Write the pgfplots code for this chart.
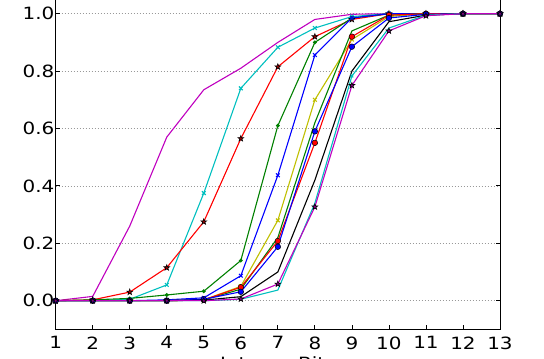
\documentclass[border=0pt]{standalone}
\usepackage{fontspec}
\setmainfont{DejaVu Sans}[FakeStretch=1.18]
\usepackage{pgfplots}
\pgfplotsset{compat=1.18}

% matplotlib classic colours
\definecolor{mb}{rgb}{0,0,1}
\definecolor{mg}{rgb}{0,0.5,0}
\definecolor{mr}{rgb}{1,0,0}
\definecolor{mc}{rgb}{0,0.75,0.75}
\definecolor{mm}{rgb}{0.75,0,0.75}
\definecolor{my}{rgb}{0.75,0.75,0}

% filled five-pointed star
\pgfdeclareplotmark{fstar}{%
  \pgfpathmoveto{\pgfpointpolar{90}{\pgfplotmarksize}}%
  \pgfpathlineto{\pgfpointpolar{126}{0.4\pgfplotmarksize}}%
  \pgfpathlineto{\pgfpointpolar{162}{\pgfplotmarksize}}%
  \pgfpathlineto{\pgfpointpolar{198}{0.4\pgfplotmarksize}}%
  \pgfpathlineto{\pgfpointpolar{234}{\pgfplotmarksize}}%
  \pgfpathlineto{\pgfpointpolar{270}{0.4\pgfplotmarksize}}%
  \pgfpathlineto{\pgfpointpolar{306}{\pgfplotmarksize}}%
  \pgfpathlineto{\pgfpointpolar{342}{0.4\pgfplotmarksize}}%
  \pgfpathlineto{\pgfpointpolar{18}{\pgfplotmarksize}}%
  \pgfpathlineto{\pgfpointpolar{54}{0.4\pgfplotmarksize}}%
  \pgfpathclose
  \pgfusepathqfillstroke
}

\begin{document}
\begin{tikzpicture}
\begin{axis}[
  scale only axis,
  width=444.3pt, height=344.4pt,
  xmin=1, xmax=13, ymin=-0.1, ymax=1.1,
  xtick={1,2,3,4,5,6,7,8,9,10,11,12,13},
  ytick={0,0.2,0.4,0.6,0.8,1.0},
  yticklabel style={/pgf/number format/fixed, /pgf/number format/fixed zerofill,
    /pgf/number format/precision=1, inner sep=1.2pt},
  /pgf/number format/assume math mode=true,
  tick label style={font=\fontsize{16.9}{20}\selectfont, text=black},
  xticklabel style={inner sep=0pt, yshift=-7pt},
  xlabel={Integer Bits},
  xlabel style={at={(rel axis cs:0.5,0)}, anchor=north, inner sep=0pt,
    yshift=-27pt, font=\fontsize{16.9}{20}\selectfont},
  ymajorgrids,
  grid style={gray!80, line width=0.6pt, dash pattern=on 0.8pt off 2.2pt},
  axis line style={line width=1pt},
  major tick length=4pt,
  tick style={black, line width=0.8pt},
  every axis plot/.append style={line width=1.1pt},
]
\coordinate (o) at (rel axis cs:0,0);
% magenta, no marker
\addplot[mm, no marks] coordinates {
  (1,0) (2,0.015) (3,0.26) (4,0.57) (5,0.735) (6,0.81) (7,0.90)
  (8,0.98) (9,0.998) (10,1) (11,1) (12,1) (13,1)};
% cyan, x
\addplot[mc, mark=x, mark size=2.6pt] coordinates {
  (1,0) (2,0) (3,0.005) (4,0.055) (5,0.375) (6,0.74) (7,0.883)
  (8,0.95) (9,0.99) (10,1) (11,1) (12,1) (13,1)};
% red, star
\addplot[mr, mark=fstar, mark size=3pt,
  mark options={fill=mr!60!black, draw=black, line width=0.6pt}] coordinates {
  (1,0) (2,0.003) (3,0.03) (4,0.115) (5,0.275) (6,0.565) (7,0.815)
  (8,0.92) (9,0.98) (10,1) (11,1) (12,1) (13,1)};
% green, dot
\addplot[mg, mark=*, mark size=1.3pt, mark options={fill=mg, draw=mg}] coordinates {
  (1,0) (2,0.003) (3,0.008) (4,0.02) (5,0.033) (6,0.14) (7,0.61)
  (8,0.90) (9,0.985) (10,1) (11,1) (12,1) (13,1)};
% blue, x
\addplot[mb, mark=x, mark size=2.6pt] coordinates {
  (1,0) (2,0) (3,0) (4,0.003) (5,0.01) (6,0.087) (7,0.437)
  (8,0.856) (9,0.985) (10,1) (11,1) (12,1) (13,1)};
% yellow, x
\addplot[my, mark=x, mark size=2.6pt] coordinates {
  (1,0) (2,0) (3,0) (4,0) (5,0.003) (6,0.05) (7,0.28)
  (8,0.70) (9,0.91) (10,0.99) (11,1) (12,1) (13,1)};
% green, no marker
\addplot[mg, no marks] coordinates {
  (1,0) (2,0) (3,0) (4,0) (5,0.003) (6,0.04) (7,0.22)
  (8,0.62) (9,0.94) (10,0.995) (11,1) (12,1) (13,1)};
% red, circle
\addplot[mr, mark=*, mark size=2.8pt,
  mark options={fill=mr, draw=black, line width=0.5pt}] coordinates {
  (1,0) (2,0) (3,0) (4,0) (5,0.003) (6,0.047) (7,0.208)
  (8,0.55) (9,0.92) (10,0.995) (11,1) (12,1) (13,1)};
% blue, circle
\addplot[mb, mark=*, mark size=2.8pt,
  mark options={fill=mb, draw=black, line width=0.5pt}] coordinates {
  (1,0) (2,0) (3,0) (4,0) (5,0.005) (6,0.031) (7,0.188)
  (8,0.59) (9,0.885) (10,0.985) (11,0.998) (12,1) (13,1)};
% black
\addplot[black, no marks] coordinates {
  (1,0) (2,0) (3,0) (4,0) (5,0.002) (6,0.014) (7,0.10)
  (8,0.42) (9,0.80) (10,0.972) (11,0.995) (12,1) (13,1)};
% cyan, no marker
\addplot[mc, mark=x, mark size=2pt, mark indices={9}] coordinates {
  (1,0) (2,0) (3,0) (4,0) (5,0) (6,0.005) (7,0.037)
  (8,0.34) (9,0.783) (10,0.95) (11,0.995) (12,1) (13,1)};
% magenta, star
\addplot[mm, mark=fstar, mark size=3pt,
  mark options={fill=mm!70!black, draw=black, line width=0.6pt}] coordinates {
  (1,0) (2,0) (3,0) (4,0) (5,0) (6,0.006) (7,0.058)
  (8,0.327) (9,0.75) (10,0.94) (11,0.993) (12,1) (13,1)};
\end{axis}
\pgfresetboundingbox
\path[use as bounding box] ([shift={(-55.7pt,-29.6pt)}]o) rectangle ++(544pt,359pt);
\end{tikzpicture}
\end{document}
